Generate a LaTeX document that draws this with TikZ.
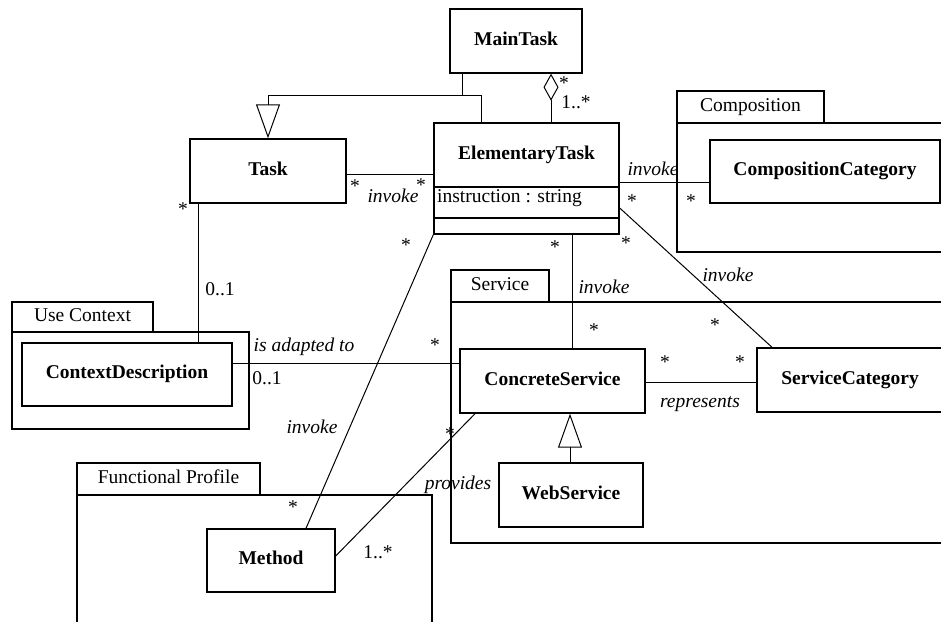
\documentclass[tikz,border=0pt]{standalone}
\usepackage{fontspec}
\setmainfont{Liberation Serif}
\usetikzlibrary{arrows.meta}
\begin{document}
\begin{tikzpicture}[x=1pt,y=-1pt,
  txt/.style={font=\fontsize{19.5}{22}\selectfont},
  cls/.style={draw,line width=1.4pt,fill=white,inner sep=0pt,font={\fontsize{19.5}{22}\selectfont\bfseries},text height=14pt,text depth=6pt},
  clsname/.style={inner sep=0pt,font={\fontsize{19.5}{22}\selectfont\bfseries},text height=14pt,text depth=6pt},
  pkg/.style={draw,line width=1.4pt},
  tabtext/.style={txt,inner sep=0pt,text height=14pt,text depth=6pt},
  conn/.style={line width=1pt},
  role/.style={font={\fontsize{19.5}{22}\selectfont\itshape},inner sep=0pt},
  mult/.style={txt,inner sep=0pt},
  star/.style={mult,text height=13.5pt,text depth=-6pt,yshift=-3.5pt},
  gen/.style={conn,-{Triangle[open,length=34pt,width=24pt,line width=1pt]}},
  agg/.style={conn,-{Diamond[open,length=27pt,width=15pt,line width=1pt]}}
]
\useasboundingbox (0,0) rectangle (941,621);
\clip (0,0) rectangle (941,621);

% packages
\draw[pkg] (677,91) rectangle (824,123);
\draw[pkg] (677,123) rectangle (960,252);
\node[tabtext] (tabComp) at (750.5,107) {Composition};
\draw[pkg] (451,270) rectangle (549,302);
\draw[pkg] (451,302) rectangle (960,543);
\node[tabtext] (tabServ) at (500,286) {Service};
\draw[pkg] (12,302) rectangle (153,332);
\draw[pkg] (12,332) rectangle (249,429);
\node[tabtext] (tabUse) at (82.5,317) {Use Context};
\draw[pkg] (77,463) rectangle (260,495);
\draw[pkg] (77,495) rectangle (432,640);
\node[tabtext] (tabFun) at (168.5,479) {Functional Profile};

% classes
\node[cls,minimum width=132,minimum height=64] (MainTask) at (516,41) {MainTask};
\node[cls,minimum width=156,minimum height=64] (Task) at (268,171) {Task};
\node[cls,minimum width=185,minimum height=111] (ElementaryTask) at (526.5,178.5) {};
\node[clsname] (ETname) at (526.5,155) {ElementaryTask};
\draw[line width=1.4pt] (ElementaryTask.west |- 0,187) -- (ElementaryTask.east |- 0,187);
\draw[line width=1.4pt] (ElementaryTask.west |- 0,218) -- (ElementaryTask.east |- 0,218);
\node[txt,inner sep=0pt,anchor=west,text height=14pt,text depth=6pt] (ETattr) at (437,198) {instruction : string};
\node[cls,minimum width=230,minimum height=63] (CompositionCategory) at (825,171.5) {CompositionCategory};
\node[cls,minimum width=210,minimum height=63] (ContextDescription) at (127,374.5) {ContextDescription};
\node[cls,minimum width=185,minimum height=64] (ConcreteService) at (552.5,381) {ConcreteService};
\node[cls,minimum width=186,minimum height=64] (ServiceCategory) at (850,380) {ServiceCategory};
\node[cls,minimum width=144,minimum height=64] (WebService) at (571,495) {WebService};
\node[cls,minimum width=128,minimum height=63] (Method) at (271,560.5) {Method};

% connectors
\draw[conn] (MainTask.south -| 462,0) -- (462,95);
\draw[gen] (ElementaryTask.north -| 481,0) |- (268,95) -- (Task.north);
\draw[agg] (ElementaryTask.north -| 551,0) -- (MainTask.south -| 551,0);
\draw[conn] (Task.east |- 0,174) -- (ElementaryTask.west |- 0,174);
\draw[conn] (ElementaryTask.east |- 0,182) -- (CompositionCategory.west |- 0,182);
\draw[conn] (ElementaryTask.east |- 0,208) -- (ServiceCategory.north -| 772,0);
\draw[conn] (ElementaryTask.south -| 572,0) -- (ConcreteService.north -| 572,0);
\draw[conn] (ConcreteService.east |- 0,382) -- (ServiceCategory.west |- 0,382);
\draw[gen] (WebService.north -| 570,0) -- (ConcreteService.south -| 570,0);
\draw[conn] (Task.south -| 198,0) -- (ContextDescription.north -| 198,0);
\draw[conn] (ContextDescription.east |- 0,363) -- (ConcreteService.west |- 0,363);
\draw[conn] (ElementaryTask.south west) -- (Method.north -| 306,0);
\draw[conn] (ConcreteService.south -| 475,0) -- (Method.east |- 0,556);

% labels
\node[star] (s1) at (564,79) {*};
\node[mult] (l1) at (576,102) {1..*};
\node[star] (s2) at (355,182) {*};
\node[star] (s3) at (421,181) {*};
\node[role] (r1) at (393,196) {invoke};
\node[role] (r2) at (653,169) {invoke};
\node[star] (s4) at (632,197) {*};
\node[star] (s5) at (691,197) {*};
\node[star] (s6) at (626,239) {*};
\node[role] (r3) at (728,275) {invoke};
\node[star] (s7) at (715,321) {*};
\node[star] (s8) at (555,243) {*};
\node[role] (r4) at (604,287) {invoke};
\node[star] (s9) at (594,326) {*};
\node[star] (s10) at (665,358) {*};
\node[star] (s11) at (740,358) {*};
\node[role] (r5) at (700,404) {represents};
\node[star] (s12) at (183,205) {*};
\node[mult] (l2) at (220,289) {0..1};
\node[role] (r6) at (304,347) {is adapted to};
\node[mult] (l3) at (267,378) {0..1};
\node[star] (s13) at (435,341) {*};
\node[star] (s14) at (406,241) {*};
\node[role] (r7) at (312,427) {invoke};
\node[star] (s15) at (293,503) {*};
\node[star] (s16) at (450,430) {*};
\node[role] (r8) at (458,485) {provides};
\node[mult] (l4) at (378,552) {1..*};
\end{tikzpicture}
\end{document}
